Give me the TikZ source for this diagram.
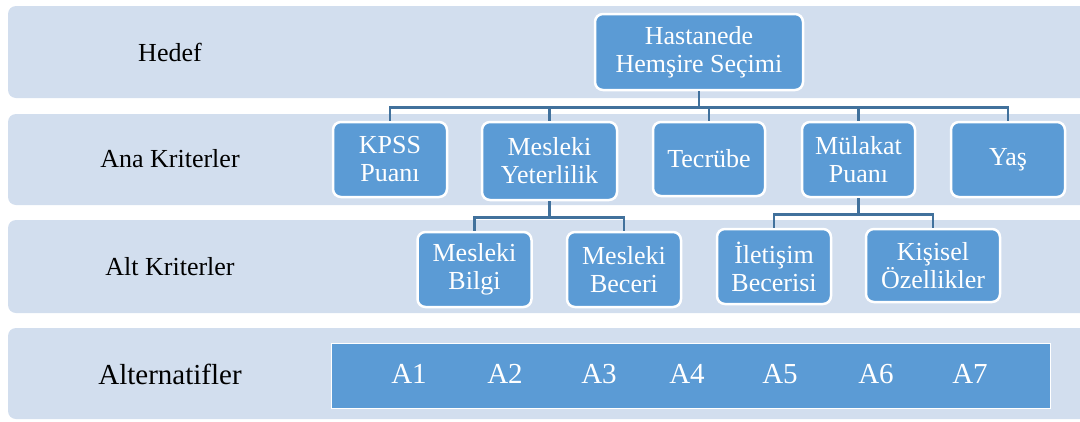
\documentclass[tikz,border=0pt]{standalone}
\usepackage{fontspec}
\setmainfont{Liberation Serif}
\usepackage{tikz}
\usetikzlibrary{calc}
\definecolor{bandbg}{RGB}{210,222,238}
\definecolor{boxblue}{RGB}{91,155,213}
\definecolor{linkblue}{RGB}{65,113,156}
\tikzstyle{band} = [fill=bandbg, rounded corners=8pt]
\tikzstyle{rowlabel} = [font=\fontsize{26}{28}\selectfont, text=black]
\tikzstyle{critbox} = [draw=white, line width=2.5pt, fill=boxblue, rounded corners=8pt, text=white, align=center, inner sep=0pt, font=\fontsize{26}{28}\selectfont]
\tikzstyle{link} = [draw=linkblue, line width=2.5pt]
\tikzstyle{altlabel} = [text=white, font=\fontsize{29}{31}\selectfont]

\begin{document}
\begin{tikzpicture}[x=1pt, y=-1pt]
\useasboundingbox (0,0) rectangle (1080,421);

% rows
\fill[band] (8,6) rectangle (1090,98);
\fill[band] (8,114) rectangle (1090,205);
\fill[band] (8,220) rectangle (1090,313);
\fill[band] (8,328) rectangle (1090,419);

\node[rowlabel] (goalL) at (170,52) {Hedef};
\node[rowlabel] (mainL) at (170,159) {Ana Kriterler};
\node[rowlabel] (subL) at (170,267) {Alt Kriterler};
\node[rowlabel, font=\fontsize{29}{31}\selectfont] (altL) at (170,374) {Alternatifler};

% goal and criteria
\node[critbox, minimum width=208pt, minimum height=76pt] (goal) at (699,52) {Hastanede\\Hemşire Seçimi};

\node[critbox, minimum width=114pt, minimum height=75pt] (kpss) at (390,159.5) {KPSS\\Puanı};
\node[critbox, minimum width=135pt, minimum height=78pt] (mesyet) at (549.5,161) {Mesleki\\Yeterlilik};
\node[critbox, minimum width=112pt, minimum height=74pt] (tecrube) at (709,159) {Tecrübe};
\node[critbox, minimum width=113pt, minimum height=75pt] (mulakat) at (858.5,159.5) {Mülakat\\Puanı};
\node[critbox, minimum width=114pt, minimum height=75pt] (yas) at (1008,159.5) {Yaş};

\node[critbox, minimum width=114pt, minimum height=75pt] (bilgi) at (474.5,269.5) {Mesleki\\Bilgi};
\node[critbox, minimum width=114pt, minimum height=75pt] (beceri) at (624,269.5) {Mesleki\\Beceri};
\node[critbox, minimum width=114pt, minimum height=75pt] (iletisim) at (774,266.5) {İletişim\\Becerisi};
\node[critbox, minimum width=134pt, minimum height=73pt] (kisisel) at (933,265.5) {Kişisel\\Özellikler};

\draw[link] (goal.south) -- ++(0,16) -| (kpss.north);
\draw[link] (goal.south) -- ++(0,16) -| (mesyet.north);
\draw[link] (goal.south) -- ++(0,16) -| (tecrube.north);
\draw[link] (goal.south) -- ++(0,16) -| (mulakat.north);
\draw[link] (goal.south) -- ++(0,16) -| (yas.north);
\draw[link] (mesyet.south) -- ++(0,16) -| (bilgi.north);
\draw[link] (mesyet.south) -- ++(0,16) -| (beceri.north);
\draw[link] (mulakat.south) -- ++(0,16) -| (iletisim.north);
\draw[link] (mulakat.south) -- ++(0,16) -| (kisisel.north);

% alternatives
\node[draw=white, line width=1pt, fill=boxblue, minimum width=719pt, minimum height=65pt, inner sep=0pt] (alts) at (690.5,375.5) {};
\node[altlabel] (a1) at (409,374) {A1};
\node[altlabel] (a2) at (505,374) {A2};
\node[altlabel] (a3) at (599,374) {A3};
\node[altlabel] (a4) at (687,374) {A4};
\node[altlabel] (a5) at (780,374) {A5};
\node[altlabel] (a6) at (876,374) {A6};
\node[altlabel] (a7) at (970,374) {A7};

\end{tikzpicture}
\end{document}
